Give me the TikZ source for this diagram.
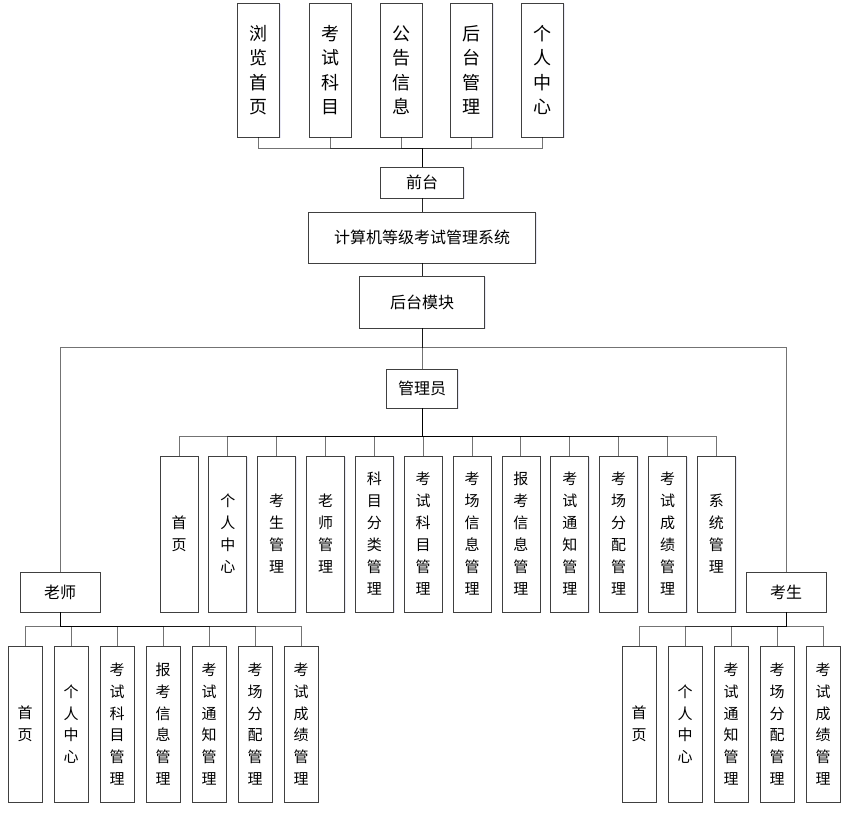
\documentclass[tikz,border=0pt]{standalone}
\usepackage{fontspec}
\newfontfamily\cjk{Noto Sans CJK SC}
\usetikzlibrary{positioning, shadows}

\begin{document}
\begin{tikzpicture}[
    x=1pt, y=-1pt,
    box/.style={draw=black!75, fill=white, line width=0.8pt, inner sep=0pt,
                align=center, drop shadow={shadow xshift=1.2pt, shadow yshift=-1.2pt,
                opacity=0.12, fill=blue!40!gray}},
    topbox/.style={box, minimum width=42pt, minimum height=134pt,
                   font=\cjk\fontsize{18}{24.5}\selectfont},
    mainbox/.style={box, font=\cjk\fontsize{16}{20}\selectfont},
    adminbox/.style={box, minimum width=38pt, minimum height=156pt,
                     font=\cjk\fontsize{15}{22}\selectfont},
    leafbox/.style={box, minimum width=34pt, minimum height=156pt,
                    font=\cjk\fontsize{15}{21.7}\selectfont},
    link/.style={draw=black, draw opacity=0.55, line width=1pt},
    trunk/.style={link, draw opacity=0.85},
]
\useasboundingbox (0,0) rectangle (851,814);

% front end
\node[topbox] (t1) at (258.5,70) {浏\\览\\首\\页};
\node[topbox] (t2) at (330,70)   {考\\试\\科\\目};
\node[topbox] (t3) at (401,70)   {公\\告\\信\\息};
\node[topbox] (t4) at (471.5,70) {后\\台\\管\\理};
\node[topbox] (t5) at (542.5,70) {个\\人\\中\\心};
\node[mainbox, minimum width=83pt, minimum height=31pt]  (front) at (422,182.5) {前台};
\node[mainbox, minimum width=227pt, minimum height=51pt] (sys)   at (422,237.5) {计算机等级考试管理系统};
\node[mainbox, minimum width=125pt, minimum height=52pt] (back)  at (422,302)   {后台模块};

% roles
\node[mainbox, minimum width=71pt, minimum height=39pt] (admin)   at (422,388.5) {管理员};
\node[mainbox, minimum width=80pt, minimum height=40pt] (teacher) at (60,592)    {老师};
\node[mainbox, minimum width=80pt, minimum height=40pt] (student) at (786,592)   {考生};

% admin modules
\node[adminbox] (a1)  at (179,534)   {首\\页};
\node[adminbox] (a2)  at (227.8,534) {个\\人\\中\\心};
\node[adminbox] (a3)  at (276.7,534) {考\\生\\管\\理};
\node[adminbox] (a4)  at (325.5,534) {老\\师\\管\\理};
\node[adminbox] (a5)  at (374.4,534) {科\\目\\分\\类\\管\\理};
\node[adminbox] (a6)  at (423.2,534) {考\\试\\科\\目\\管\\理};
\node[adminbox] (a7)  at (472.1,534) {考\\场\\信\\息\\管\\理};
\node[adminbox] (a8)  at (520.9,534) {报\\考\\信\\息\\管\\理};
\node[adminbox] (a9)  at (569.8,534) {考\\试\\通\\知\\管\\理};
\node[adminbox] (a10) at (618.6,534) {考\\场\\分\\配\\管\\理};
\node[adminbox] (a11) at (667.5,534) {考\\试\\成\\绩\\管\\理};
\node[adminbox] (a12) at (716.3,534) {系\\统\\管\\理};

% teacher modules
\node[leafbox] (r1) at (25,724)  {首\\页};
\node[leafbox] (r2) at (71,724)  {个\\人\\中\\心};
\node[leafbox] (r3) at (117,724) {考\\试\\科\\目\\管\\理};
\node[leafbox] (r4) at (163,724) {报\\考\\信\\息\\管\\理};
\node[leafbox] (r5) at (209,724) {考\\试\\通\\知\\管\\理};
\node[leafbox] (r6) at (255,724) {考\\场\\分\\配\\管\\理};
\node[leafbox] (r7) at (301,724) {考\\试\\成\\绩\\管\\理};

% student modules
\node[leafbox] (s1) at (639,724) {首\\页};
\node[leafbox] (s2) at (685,724) {个\\人\\中\\心};
\node[leafbox] (s3) at (731,724) {考\\试\\通\\知\\管\\理};
\node[leafbox] (s4) at (777,724) {考\\场\\分\\配\\管\\理};
\node[leafbox] (s5) at (823,724) {考\\试\\成\\绩\\管\\理};

% bus points
\coordinate (topbus)   at (422,148);
\coordinate (rolebus)  at (422,347);
\coordinate (adminbus) at (422,436);
\coordinate (teachbus) at (60,626);
\coordinate (studbus)  at (786,626);

% connectors
\draw[link] (front.north) -- (topbus) -| (t1.south);
\draw[link] (front.north) -- (topbus) -| (t2.south);
\draw[link] (front.north) -- (topbus) -| (t3.south);
\draw[link] (front.north) -- (topbus) -| (t4.south);
\draw[link] (front.north) -- (topbus) -| (t5.south);
\draw[trunk] (front.south) -- (sys.north);
\draw[trunk] (sys.south) -- (back.north);
\draw[link] (back.south) -- (admin.north);
\draw[link] (back.south) -- (rolebus) -| (teacher.north);
\draw[link] (back.south) -- (rolebus) -| (student.north);

\draw[link] (admin.south) -- (adminbus) -| (a1.north);
\draw[link] (admin.south) -- (adminbus) -| (a2.north);
\draw[link] (admin.south) -- (adminbus) -| (a3.north);
\draw[link] (admin.south) -- (adminbus) -| (a4.north);
\draw[link] (admin.south) -- (adminbus) -| (a5.north);
\draw[link] (admin.south) -- (adminbus) -| (a6.north);
\draw[link] (admin.south) -- (adminbus) -| (a7.north);
\draw[link] (admin.south) -- (adminbus) -| (a8.north);
\draw[link] (admin.south) -- (adminbus) -| (a9.north);
\draw[link] (admin.south) -- (adminbus) -| (a10.north);
\draw[link] (admin.south) -- (adminbus) -| (a11.north);
\draw[link] (admin.south) -- (adminbus) -| (a12.north);

\draw[link] (teacher.south) -- (teachbus) -| (r1.north);
\draw[link] (teacher.south) -- (teachbus) -| (r2.north);
\draw[link] (teacher.south) -- (teachbus) -| (r3.north);
\draw[link] (teacher.south) -- (teachbus) -| (r4.north);
\draw[link] (teacher.south) -- (teachbus) -| (r5.north);
\draw[link] (teacher.south) -- (teachbus) -| (r6.north);
\draw[link] (teacher.south) -- (teachbus) -| (r7.north);

\draw[link] (student.south) -- (studbus) -| (s1.north);
\draw[link] (student.south) -- (studbus) -| (s2.north);
\draw[link] (student.south) -- (studbus) -| (s3.north);
\draw[link] (student.south) -- (studbus) -| (s4.north);
\draw[link] (student.south) -- (studbus) -| (s5.north);
\end{tikzpicture}
\end{document}
